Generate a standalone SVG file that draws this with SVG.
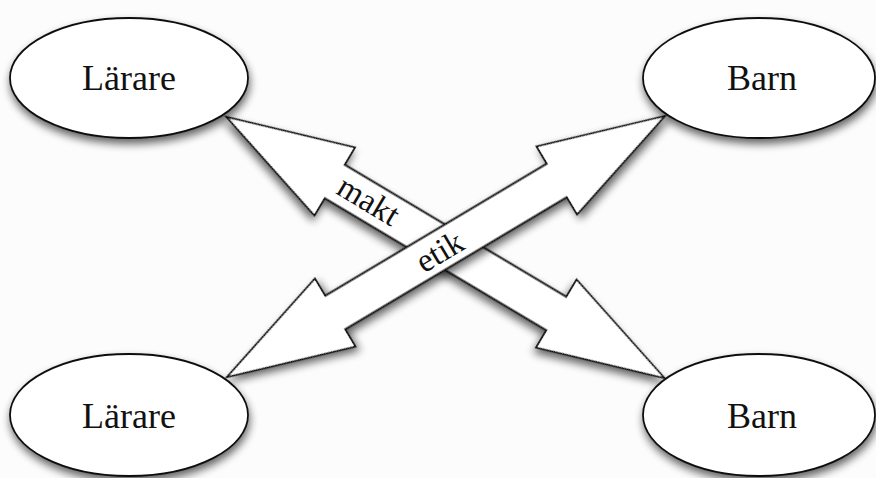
<svg xmlns="http://www.w3.org/2000/svg" width="876" height="478" viewBox="0 0 876 478">
<defs>
<filter id="sh" x="-20%" y="-20%" width="140%" height="150%">
<feGaussianBlur in="SourceAlpha" stdDeviation="4"/>
<feOffset dx="1" dy="5" result="b"/>
<feComponentTransfer><feFuncA type="linear" slope="0.6"/></feComponentTransfer>
<feMerge><feMergeNode/><feMergeNode in="SourceGraphic"/></feMerge>
</filter>
</defs>
<style>
.n{fill:#fff;stroke:#111;stroke-width:1.8}
.a{fill:#fff;stroke:#111;stroke-width:1.8;stroke-linejoin:miter}
.t{font-family:"Liberation Serif","Times New Roman",serif;font-size:36px;fill:#111;text-anchor:middle}
.l{font-family:"Liberation Serif","Times New Roman",serif;font-size:33px;fill:#111;text-anchor:middle}
</style>
<rect width="876" height="478" fill="#fcfcfc"/>
<g id="connectors">
<g id="makt" transform="translate(445.5,247.5) rotate(30.8)">
<polygon class="a" filter="url(#sh)" points="255,0 129,-39.5 129,-19.5 -129,-19.5 -129,-39.5 -255,0 -129,39.5 -129,19.5 129,19.5 129,39.5"/>
<text class="l" x="-90" y="10">makt</text>
</g>
<g id="etik" transform="translate(446,246.5) rotate(-30.8)">
<polygon class="a" filter="url(#sh)" points="255,0 129,-39.5 129,-19.5 -129,-19.5 -129,-39.5 -255,0 -129,39.5 -129,19.5 129,19.5 129,39.5"/>
<text class="l" x="-8" y="12">etik</text>
</g>
</g>
<g id="lararTop">
<ellipse class="n" filter="url(#sh)" cx="129" cy="78" rx="119" ry="60"/>
<text class="t" x="129" y="90">Lärare</text>
</g>
<g id="barnTop">
<ellipse class="n" filter="url(#sh)" cx="759" cy="78" rx="116" ry="60"/>
<text class="t" x="762" y="90">Barn</text>
</g>
<g id="lararBottom">
<ellipse class="n" filter="url(#sh)" cx="129" cy="415" rx="119" ry="61"/>
<text class="t" x="129" y="428">Lärare</text>
</g>
<g id="barnBottom">
<ellipse class="n" filter="url(#sh)" cx="759" cy="415" rx="116" ry="61"/>
<text class="t" x="762" y="428">Barn</text>
</g>
</svg>
